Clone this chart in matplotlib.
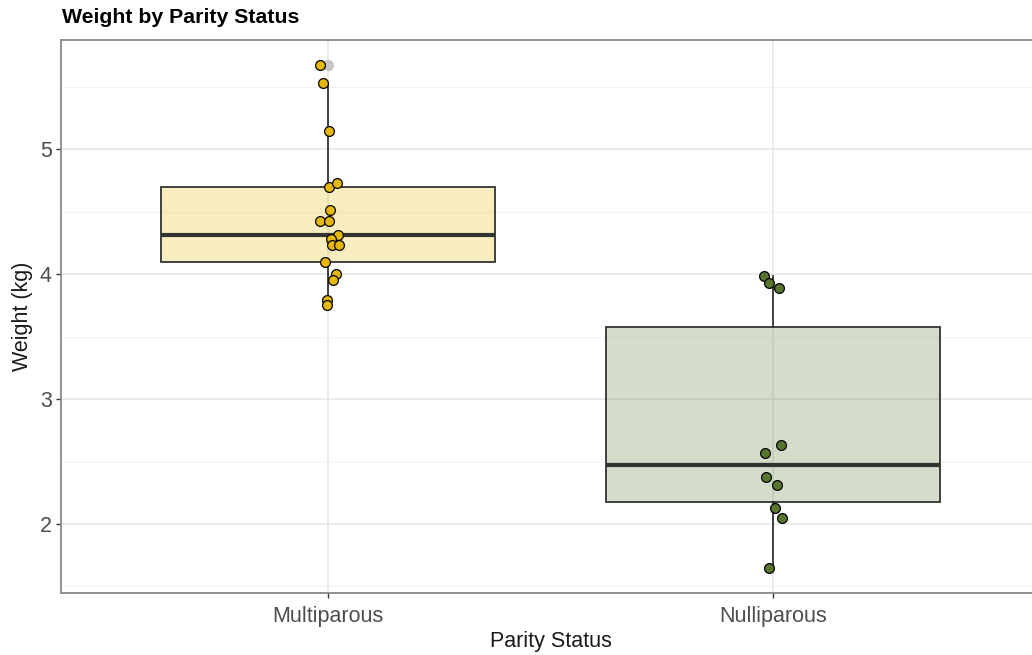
import matplotlib.pyplot as plt
import matplotlib.ticker as mticker
import numpy as np

# ------------------------------
# Data
# ------------------------------
GROUPS = ["Multiparous", "Nulliparous"]

multi_weight = [5.671, 5.530, 5.142, 4.700, 4.729, 4.511, 4.428, 4.428, 4.312,
                4.277, 4.232, 4.230, 4.093, 4.001, 3.950, 3.796, 3.754]
multi_jitter = [-0.017, -0.011, 0.002, 0.002, 0.020, 0.005, -0.018, 0.002, 0.023,
                0.007, 0.010, 0.024, -0.007, 0.019, 0.011, -0.002, -0.002]

nulli_weight = [3.982, 3.929, 3.891, 2.630, 2.569, 2.378, 2.309, 2.130, 2.050, 1.646]
nulli_jitter = [-0.020, -0.009, 0.013, 0.017, -0.017, -0.016, 0.008, 0.004, 0.020, -0.008]

POINT_COLORS = ["#E7B800", "#57772F"]

OUTPUT = "out.png"


def main():
    plt.rcParams["font.family"] = ["Liberation Sans", "DejaVu Sans"]

    fig = plt.figure(figsize=(10.32, 6.55), dpi=100)
    ax = fig.add_axes([0.0591, 0.0947, 0.9487, 0.844])

    weights = [multi_weight, nulli_weight]
    jitters = [multi_jitter, nulli_jitter]
    positions = [1, 2]

    bp = ax.boxplot(
        weights, positions=positions, widths=0.75, patch_artist=True,
        whis=1.5, zorder=2,
        medianprops=dict(color="#333333", linewidth=3),
        boxprops=dict(edgecolor="#333333", linewidth=1.3),
        whiskerprops=dict(color="#333333", linewidth=1.3),
        capprops=dict(linewidth=0),
        flierprops=dict(marker="o", markersize=7, markerfacecolor="#bbbbbb",
                        markeredgecolor="#bbbbbb", alpha=0.8),
    )
    # translucent box fill in the group colour
    for patch, c in zip(bp["boxes"], POINT_COLORS):
        r, g, b = plt.matplotlib.colors.to_rgb(c)
        patch.set_facecolor((r, g, b, 0.25))

    # jittered raw points on top
    for pos, w, j, c in zip(positions, weights, jitters, POINT_COLORS):
        ax.scatter(np.array(j) + pos, w, s=50, facecolor=c, edgecolor="black",
                   linewidth=0.9, zorder=4)

    ax.set_xlim(0.4, 2.6)
    ax.set_ylim(1.448, 5.872)
    ax.set_xticks(positions)
    ax.set_xticklabels(GROUPS)
    ax.yaxis.set_major_locator(mticker.MultipleLocator(1))
    ax.yaxis.set_minor_locator(mticker.MultipleLocator(0.5))
    ax.yaxis.set_major_formatter(mticker.FormatStrFormatter("%d"))

    ax.grid(which="major", color="#ebebeb", linewidth=1.4, zorder=0)
    ax.grid(which="minor", axis="y", color="#f2f2f2", linewidth=0.8, zorder=0)
    ax.set_axisbelow(True)

    ax.tick_params(axis="both", which="major", length=3.5, width=1, color="#333333",
                   labelsize=15.5, labelcolor="#4d4d4d", pad=3)
    ax.tick_params(axis="x", which="major", pad=6)
    ax.tick_params(axis="y", which="minor", length=0)

    for spine in ax.spines.values():
        spine.set_color("#888888")
        spine.set_linewidth(1.3)

    ax.set_xlabel("Parity Status", fontsize=15.5, color="#1a1a1a", labelpad=3)
    ax.set_ylabel("Weight (kg)", fontsize=15.5, color="#1a1a1a", labelpad=5)
    fig.text(0.0601, 0.974, "Weight by Parity Status", fontsize=15.3,
             fontweight="bold", ha="left", va="center", color="black")

    fig.savefig(OUTPUT, dpi=100)
    plt.close(fig)


if __name__ == "__main__":
    main()
